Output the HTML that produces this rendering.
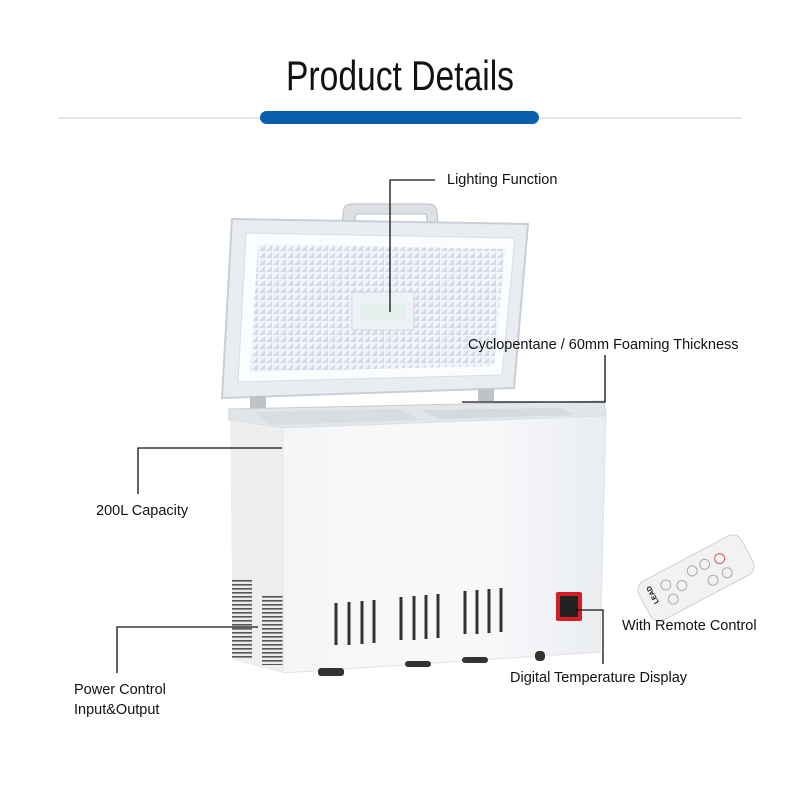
<!DOCTYPE html>
<html><head><meta charset="utf-8"><style>
html,body{margin:0;padding:0;background:#fff;}
svg{display:block;}
text{font-family:"Liberation Sans",sans-serif;fill:#111;}
</style></head><body>
<svg width="800" height="800" viewBox="0 0 800 800" xmlns="http://www.w3.org/2000/svg">
<defs>
<pattern id="grid" width="7" height="7" patternUnits="userSpaceOnUse">
<rect width="7" height="7" fill="#f1f5fb"/>
<path d="M0 6 L6 0 L6 6Z" fill="#d3dbe6"/>
</pattern>
<linearGradient id="front" x1="0" y1="0" x2="1" y2="0">
<stop offset="0" stop-color="#f4f6f8"/><stop offset="0.6" stop-color="#f8f9fb"/><stop offset="1" stop-color="#eaedf0"/>
</linearGradient>
<pattern id="vent" width="4" height="4" patternUnits="userSpaceOnUse">
<rect width="4" height="4" fill="#e8eaec"/><rect y="0" width="4" height="1.6" fill="#555"/>
</pattern>
</defs>
<!-- title -->
<text x="400" y="90" font-size="42" text-anchor="middle" textLength="228" lengthAdjust="spacingAndGlyphs">Product Details</text>
<line x1="58" y1="118" x2="742" y2="118" stroke="#ccc" stroke-width="1"/>
<rect x="260" y="111" width="279" height="13" rx="6.5" fill="#0a5fad"/>

<!-- handle -->
<path d="M342 222 L344 208 Q346 204 352 204 L428 204 Q436 204 437 212 L438 224 L428 224 L426 214 L356 214 L354 224Z" fill="#dde1e4" stroke="#b9bec3"/>
<!-- lid -->
<polygon points="232,219 528,224 514,388 222,398" fill="#e9edf1" stroke="#c9cfd6" stroke-width="2"/>
<polygon points="246,233 515,238 502,375 238,382" fill="#fafcfe" stroke="#d7dde5"/>
<polygon points="258,244 505,249 494,366 250,372" fill="url(#grid)"/>
<rect x="352" y="292" width="62" height="38" fill="#eef2f6" stroke="#cfd6de"/>
<rect x="360" y="303" width="46" height="16" fill="#e4f0ec"/>
<!-- hinges -->
<rect x="250" y="396" width="16" height="12" fill="#bfc3c6"/>
<rect x="478" y="389" width="16" height="12" fill="#bfc3c6"/>
<!-- top rim -->
<polygon points="229,409 604,401 606,416 283,428 229,420" fill="#e3e6e9" stroke="#c7ccd1"/>
<polygon points="255,412 400,409 420,420 270,425" fill="#d8dde1"/>
<polygon points="420,410 560,408 575,415 440,419" fill="#d5dadf"/>
<!-- left side -->
<polygon points="230,420 283,428 283,673 233,660" fill="#eceef0"/>
<rect x="232" y="578" width="20" height="80" fill="url(#vent)"/>
<rect x="262" y="595" width="22" height="70" fill="url(#vent)"/>
<!-- front -->
<polygon points="283,428 606,416 600,652 283,673" fill="url(#front)" stroke="#e0e3e6"/>
<!-- vents -->
<g stroke="#333" stroke-width="3">
<line x1="336" y1="603" x2="336" y2="645"/><line x1="349" y1="602" x2="349" y2="645"/><line x1="362" y1="601" x2="362" y2="644"/><line x1="374" y1="600" x2="374" y2="643"/>
<line x1="401" y1="597" x2="401" y2="640"/><line x1="414" y1="596" x2="414" y2="640"/><line x1="426" y1="595" x2="426" y2="639"/><line x1="438" y1="594" x2="438" y2="638"/>
<line x1="465" y1="591" x2="465" y2="634"/><line x1="477" y1="590" x2="477" y2="634"/><line x1="489" y1="589" x2="489" y2="633"/><line x1="501" y1="588" x2="501" y2="632"/>
</g>
<!-- display -->
<rect x="556" y="592" width="26" height="29" rx="2" fill="#d21f26"/>
<rect x="560" y="596" width="18" height="21" fill="#222"/>
<!-- wheels -->
<g fill="#333"><rect x="318" y="668" width="26" height="8" rx="3"/><rect x="405" y="661" width="26" height="6" rx="3"/><rect x="462" y="657" width="26" height="6" rx="3"/><rect x="535" y="651" width="10" height="10" rx="4"/></g>
<!-- remote -->
<g transform="translate(696,578) rotate(-28)">
<rect x="-58" y="-22" width="116" height="44" rx="10" fill="#f2f2f2" stroke="#cfcfcf"/>
<circle cx="-30" cy="-8" r="5" fill="none" stroke="#aaa"/><circle cx="-30" cy="8" r="5" fill="none" stroke="#aaa"/>
<circle cx="-16" cy="0" r="5" fill="none" stroke="#aaa"/><circle cx="0" cy="-8" r="5" fill="none" stroke="#aaa"/>
<circle cx="14" cy="-8" r="5" fill="none" stroke="#aaa"/><circle cx="14" cy="10" r="5" fill="none" stroke="#aaa"/>
<circle cx="30" cy="-6" r="5" fill="none" stroke="#d55"/><circle cx="30" cy="10" r="5" fill="none" stroke="#aaa"/>
<text x="-52" y="4" font-size="7" font-weight="bold" transform="rotate(-90 -48 0)">LEAD</text>
</g>

<!-- leader lines -->
<g stroke="#111" stroke-width="1.3" fill="none">
<polyline points="435,180 390,180 390,312"/>
<polyline points="605,355 605,402 462,402"/>
<polyline points="282,448 138,448 138,494"/>
<polyline points="258,627 117,627 117,673"/>
<polyline points="576,610 603,610 603,664"/>
</g>
<!-- labels -->
<g font-size="14.5">
<text x="447" y="184">Lighting Function</text>
<text x="468" y="349">Cyclopentane / 60mm Foaming Thickness</text>
<text x="96" y="515">200L Capacity</text>
<text x="622" y="630">With Remote Control</text>
<text x="510" y="682">Digital Temperature Display</text>
<text x="74" y="694">Power Control</text>
<text x="74" y="714">Input&amp;Output</text>
</g>
</svg>
</body></html>
